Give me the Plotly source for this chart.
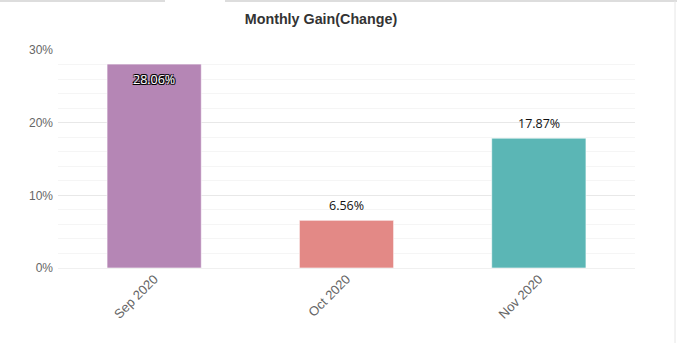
import plotly.graph_objects as go

# Monthly gain figures
months = ["Sep 2020", "Oct 2020", "Nov 2020"]
gains = [28.06, 6.56, 17.87]
bar_colors = ["#B586B5", "#E38986", "#5BB6B5"]
y_ticks = [0, 10, 20, 30]
y_tick_labels = ["0%", "10%", "20%", "30%"]

labels = [f"{g:.2f}%" for g in gains]
top = max(gains)

fig = go.Figure()
fig.add_trace(go.Bar(
    x=months,
    y=gains,
    width=0.49,
    marker=dict(color=bar_colors, line=dict(color="rgba(255,255,255,0.6)", width=1)),
    cliponaxis=False,
    hoverinfo="x+y",
))

# value labels: inside the tallest bar (outlined white), above the others
outline = "-1px -1px 0 #000, 1px -1px 0 #000, -1px 1px 0 #000, 1px 1px 0 #000"
for m, g, t in zip(months, gains, labels):
    inside = g == top
    fig.add_annotation(
        x=m, y=g, text=t, showarrow=False,
        yanchor="middle", yshift=-15 if inside else 15,
        font=dict(family="Open Sans", size=12.5,
                  color="white" if inside else "#111",
                  shadow=outline if inside else "none"),
    )

fig.update_layout(
    width=677,
    height=343,
    margin=dict(l=58, r=42, t=50, b=75),
    paper_bgcolor="white",
    plot_bgcolor="white",
    showlegend=False,
    bargap=0.51,
    title=dict(
        text="<b>Monthly Gain(Change)</b>",
        x=321 / 677, xanchor="center",
        y=0.945, yanchor="middle",
        font=dict(family="Liberation Sans, Arial", size=14.3, color="#333333"),
    ),
    xaxis=dict(
        tickangle=-45,
        tickfont=dict(family="Liberation Sans, Arial", size=13, color="#666666"),
        showgrid=False,
        showline=False,
        zeroline=False,
        ticks="",
    ),
    yaxis=dict(
        range=[0, 30],
        tickvals=y_ticks,
        ticktext=y_tick_labels,
        tickfont=dict(family="Liberation Sans, Arial", size=12, color="#666666"),
        showgrid=True,
        gridcolor="#E8E8E8",
        gridwidth=1,
        minor=dict(dtick=2, showgrid=True, gridcolor="#F5F5F5", gridwidth=1),
        zeroline=True,
        zerolinecolor="#F0F0F0",
        zerolinewidth=1,
        showline=False,
        ticks="",
        ticklabelstandoff=4,
    ),
    shapes=[
        # frame edges of the surrounding panel
        dict(type="line", xref="paper", yref="paper",
             x0=-58 / 577, x1=165 / 577 - 58 / 577, y0=1 + 49 / 218, y1=1 + 49 / 218,
             line=dict(color="#DDDDDD", width=2)),
        dict(type="line", xref="paper", yref="paper",
             x0=225 / 577 - 58 / 577, x1=619 / 577, y0=1 + 49 / 218, y1=1 + 49 / 218,
             line=dict(color="#DDDDDD", width=2)),
        dict(type="line", xref="paper", yref="paper",
             x0=617 / 577, x1=617 / 577, y0=1 + 49 / 218, y1=-75 / 218,
             line=dict(color="#E6E6E6", width=1)),
    ],
)

fig.write_html("out.html")
